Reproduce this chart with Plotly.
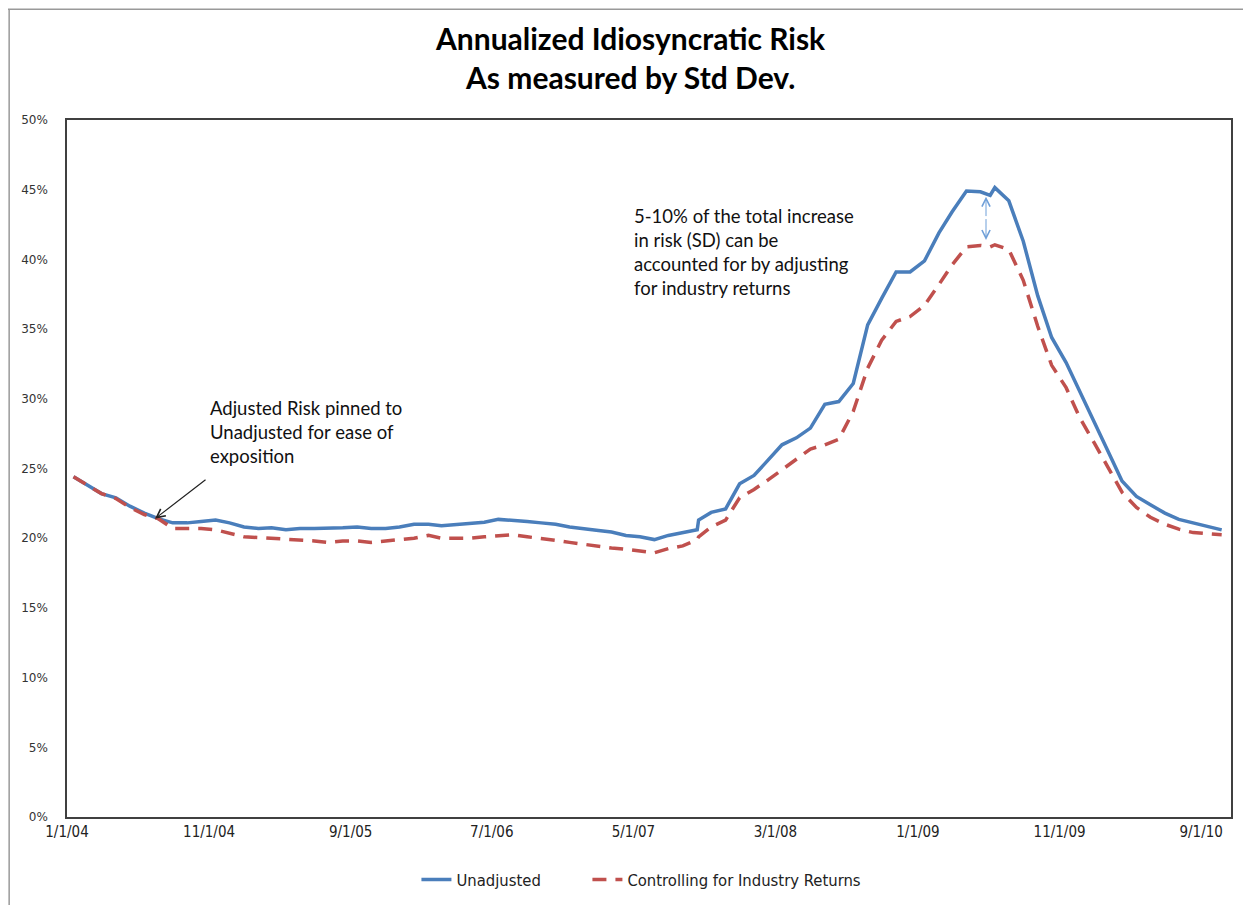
import plotly.graph_objects as go

# Monthly observation dates (mid-month), plus two extra intra-month observations
dates = [
    "2004-01-15", "2004-02-15", "2004-03-15", "2004-04-15", "2004-05-15", "2004-06-15",
    "2004-07-15", "2004-08-15", "2004-09-15", "2004-10-15", "2004-11-15", "2004-12-15",
    "2005-01-15", "2005-02-15", "2005-03-15", "2005-04-15", "2005-05-15", "2005-06-15",
    "2005-07-15", "2005-08-15", "2005-09-15", "2005-10-15", "2005-11-15", "2005-12-15",
    "2006-01-15", "2006-02-15", "2006-03-15", "2006-04-15", "2006-05-15", "2006-06-15",
    "2006-07-15", "2006-08-15", "2006-09-15", "2006-10-15", "2006-11-15", "2006-12-15",
    "2007-01-15", "2007-02-15", "2007-03-15", "2007-04-15", "2007-05-15", "2007-06-15",
    "2007-07-15", "2007-08-15", "2007-09-15", "2007-09-18", "2007-10-15", "2007-11-15",
    "2007-12-15", "2008-01-15", "2008-02-15", "2008-03-15", "2008-04-15", "2008-05-15",
    "2008-06-15", "2008-07-15", "2008-08-15", "2008-09-15", "2008-10-15", "2008-11-15",
    "2008-12-15", "2009-01-15", "2009-02-15", "2009-03-15", "2009-04-15", "2009-05-15",
    "2009-06-05", "2009-06-15", "2009-07-15", "2009-08-15", "2009-09-15", "2009-10-15",
    "2009-11-15", "2009-12-15", "2010-01-15", "2010-02-15", "2010-03-15", "2010-04-15",
    "2010-05-15", "2010-06-15", "2010-07-15", "2010-08-15", "2010-09-15", "2010-10-15",
]

unadjusted = [
    24.4, 23.75, 23.2, 22.9, 22.3, 21.8,
    21.4, 21.1, 21.1, 21.2, 21.3, 21.1,
    20.8, 20.7, 20.75, 20.6, 20.7, 20.7,
    20.7, 20.75, 20.8, 20.7, 20.7, 20.8,
    21.0, 21.0, 20.9, 21.0, 21.05, 21.15,
    21.35, 21.3, 21.2, 21.1, 21.0, 20.8,
    20.65, 20.55, 20.45, 20.2, 20.1, 19.9,
    20.2, 20.4, 20.6, 21.3, 21.85, 22.1,
    23.9, 24.5, 25.6, 26.7, 27.2, 27.9,
    29.6, 29.8, 31.1, 35.3, 37.2, 39.1,
    39.1, 39.9, 41.9, 43.4, 44.9, 44.85,
    44.6, 45.15, 44.2, 41.3, 37.4, 34.4,
    32.6, 30.5, 28.4, 26.1, 24.1, 23.0,
    22.4, 21.8, 21.35, 21.1, 20.85, 20.6,
]

adjusted = [
    24.4, 23.75, 23.2, 22.85, 22.2, 21.7,
    21.4, 20.7, 20.7, 20.7, 20.6, 20.35,
    20.1, 20.05, 20.0, 19.9, 19.85, 19.8,
    19.7, 19.8, 19.8, 19.7, 19.8, 19.9,
    20.0, 20.2, 20.0, 20.0, 20.0, 20.1,
    20.2, 20.25, 20.1, 20.0, 19.85, 19.7,
    19.55, 19.45, 19.3, 19.2, 19.05, 18.95,
    19.25, 19.45, 19.9, 20.1, 20.8, 21.3,
    22.9, 23.5, 24.2, 24.9, 25.7, 26.4,
    26.7, 27.1, 29.1, 32.2, 34.2, 35.55,
    35.9, 36.7, 38.2, 39.6, 40.9, 41.0,
    40.9, 41.05, 40.7, 38.5, 35.2, 32.4,
    30.8, 28.6, 26.8, 24.9, 23.3, 22.2,
    21.5, 21.0, 20.65, 20.4, 20.3, 20.25,
]

tick_dates = ["2004-01-01", "2004-11-01", "2005-09-01", "2006-07-01", "2007-05-01",
              "2008-03-01", "2009-01-01", "2009-11-01", "2010-09-01"]
tick_labels = ["1/1/04", "11/1/04", "9/1/05", "7/1/06", "5/1/07",
               "3/1/08", "1/1/09", "11/1/09", "9/1/10"]
y_ticks = [0, 5, 10, 15, 20, 25, 30, 35, 40, 45, 50]
y_labels = [f"{v}%" for v in y_ticks]

BLUE = "#4a7ebb"
RED = "#c0504d"
NARROW = "Liberation Sans Narrow, DejaVu Sans Condensed, Arial Narrow, sans-serif"
TEXTF = "Lato, Open Sans, sans-serif"

fig = go.Figure()
fig.add_trace(go.Scatter(x=dates, y=unadjusted, mode="lines", name="Unadjusted",
                         line=dict(color=BLUE, width=3.5), legend="legend"))
fig.add_trace(go.Scatter(x=dates, y=adjusted, mode="lines",
                         name="Controlling for Industry Returns",
                         line=dict(color=RED, width=3.5, dash="14px,9px"), legend="legend2"))

legend_font = dict(family=NARROW, size=16.5, color="#222")

# page body adds an 8px offset, so the figure is sized/offset to compensate
fig.update_layout(
    width=1243, height=897,
    paper_bgcolor="white", plot_bgcolor="white",
    margin=dict(l=59, r=20, t=112, b=88, autoexpand=False),
    showlegend=True,
    legend=dict(orientation="h", x=0.3002, xanchor="left", y=-0.090, yanchor="middle",
                font=legend_font),
    legend2=dict(orientation="h", x=0.4471, xanchor="left", y=-0.090, yanchor="middle",
                 font=legend_font),
    xaxis=dict(type="date", range=["2004-01-01", "2010-11-04"],
               tickvals=tick_dates, ticktext=tick_labels, automargin=False,
               showgrid=False, zeroline=False, ticks="",
               showline=True, linecolor="#404040", linewidth=1.5, mirror=True,
               tickfont=dict(family=NARROW, size=15, color="#222")),
    yaxis=dict(range=[0, 50], tickvals=y_ticks, ticktext=y_labels, automargin=False,
               showgrid=False, zeroline=False, ticks="",
               showline=True, linecolor="#404040", linewidth=1.5, mirror=True,
               tickfont=dict(family="DejaVu Sans, Verdana, sans-serif", size=12, color="#333"),
               ticklabelstandoff=15),
)

# Title (two centred bold lines)
fig.add_annotation(x=0.4837, y=1.1177, xref="paper", yref="paper", showarrow=False,
                   text="<b>Annualized Idiosyncratic Risk</b>", xanchor="center", yanchor="middle",
                   font=dict(family=TEXTF, size=30, color="black"))
fig.add_annotation(x=0.4837, y=1.0617, xref="paper", yref="paper", showarrow=False,
                   text="<b>As measured by Std Dev.</b>", xanchor="center", yanchor="middle",
                   font=dict(family=TEXTF, size=30, color="black"))

# Text annotations
fig.add_annotation(x=0.1211, y=0.6055, xref="paper", yref="paper", showarrow=False,
                   text="Adjusted Risk pinned to<br>Unadjusted for ease of<br>exposition",
                   align="left", xanchor="left", yanchor="top",
                   font=dict(family=TEXTF, size=18.5, color="#111"))
fig.add_annotation(x="2004-07-08", y=21.4, xref="x", yref="y", text="",
                   showarrow=True, arrowhead=5, arrowsize=1.4, arrowwidth=1.2,
                   arrowcolor="#222", ax=52, ay=-40, standoff=0)
fig.add_annotation(x=0.4854, y=0.881, xref="paper", yref="paper", showarrow=False,
                   text="5-10% of the total increase<br>in risk (SD) can be<br>accounted for by adjusting<br>for industry returns",
                   align="left", xanchor="left", yanchor="top",
                   font=dict(family=TEXTF, size=18.5, color="#111"))
# double-headed arrow
fig.add_annotation(x="2009-05-27", y=44.5, xref="x", yref="y", text="",
                   showarrow=True, arrowhead=5, arrowsize=1.6, arrowwidth=1,
                   arrowcolor="#6f9fd8", axref="x", ayref="y",
                   ax="2009-05-27", ay=43.0, standoff=0)
fig.add_annotation(x="2009-05-27", y=41.4, xref="x", yref="y", text="",
                   showarrow=True, arrowhead=5, arrowsize=1.6, arrowwidth=1,
                   arrowcolor="#6f9fd8", axref="x", ayref="y",
                   ax="2009-05-27", ay=43.0, standoff=0)

# outer chart frame (top and left edges visible)
fig.add_shape(type="line", xref="paper", yref="paper", x0=-0.06, x1=1.03,
              y0=1.159, y1=1.159, line=dict(color="#999", width=1.5))
fig.add_shape(type="line", xref="paper", yref="paper", x0=-0.0497, x1=-0.0497,
              y0=-0.14, y1=1.159, line=dict(color="#999", width=1.5))

fig.write_html("out.html")
